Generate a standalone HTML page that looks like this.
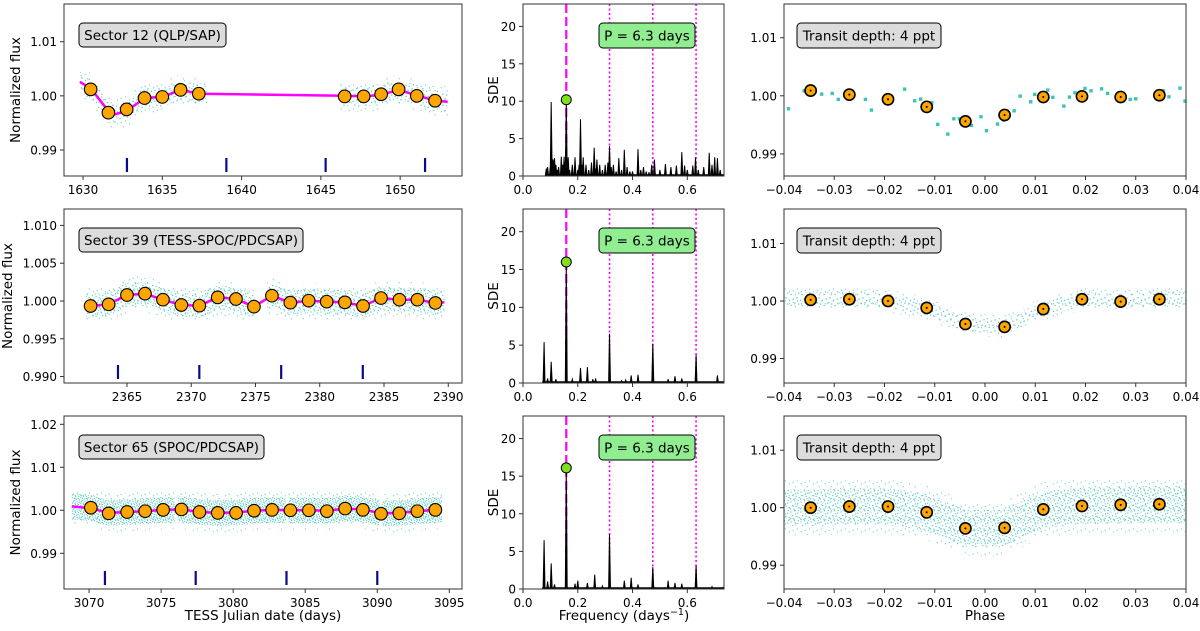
<!DOCTYPE html>
<html><head><meta charset="utf-8"><style>
html,body{margin:0;padding:0;background:#fff;}
svg{display:block;font-family:"DejaVu Sans","Liberation Sans",sans-serif;}
</style></head><body>
<svg id="fig" width="1200" height="631" viewBox="0 0 1200 631" xmlns="http://www.w3.org/2000/svg">
<defs id="defs"></defs>
<g id="root"></g>
</svg>
<script>
// ---------- DATA ----------
// Sector 12 light curve
const s12BinTime=[1630.48,1631.6,1632.75,1633.88,1635.0,1636.15,1637.3,1646.5,1647.7,1648.8,1649.9,1651.05,1652.2];
const s12BinFlux=[1.0012,0.9969,0.9975,0.9996,0.9998,1.0011,1.0004,0.9999,0.9999,1.0003,1.0012,1.0000,0.9991];
const s12TrendTime=[1629.8,1630.5,1631.6,1632.0,1632.75,1633.9,1635.0,1636.15,1637.3,1646.5,1647.7,1648.8,1649.9,1651.05,1652.2,1653.0];
const s12TrendFlux=[1.0026,1.0013,0.9972,0.9966,0.9972,0.9996,0.9998,1.0011,1.0004,1.0000,0.9999,1.0002,1.0011,1.0001,0.9991,0.9989];
const s12Transits=[1632.77,1639.04,1645.3,1651.57];
const s12Spans=[[1629.8,1637.8],[1646.2,1653.0]];
const s12XTicks=[1630,1635,1640,1645,1650];
const s12YTicks=[0.99,1.00,1.01];
// Sector 39
const s39BinTime=[2362.17,2363.57,2365.0,2366.4,2367.8,2369.23,2370.63,2372.06,2373.48,2374.88,2376.28,2377.71,2379.14,2380.54,2381.96,2383.37,2384.77,2386.2,2387.6,2389.0];
const s39BinFlux=[0.99934,0.99956,1.00079,1.00097,1.00017,0.99947,0.99938,1.00048,1.00026,0.99925,1.0007,0.99978,1.00004,0.99991,0.99982,0.99934,1.00039,1.00017,1.00017,0.99974];
const s39TrendTime=[2361.8,2362.17,2363.57,2365.0,2366.4,2367.8,2369.23,2370.63,2372.06,2373.48,2374.88,2376.28,2377.71,2379.14,2380.54,2381.96,2383.37,2384.77,2386.2,2387.6,2389.0,2389.7];
const s39TrendFlux=[0.99955,0.99934,0.99956,1.00079,1.00097,1.00017,0.99947,0.99938,1.00048,1.00026,0.99925,1.0007,0.99978,1.00004,0.99991,0.99982,0.99934,1.00039,1.00017,1.00017,0.99974,0.99982];
const s39Transits=[2364.3,2370.63,2377.0,2383.35];
const s39Spans=[[2361.8,2374.9],[2375.9,2389.7]];
const s39XTicks=[2365,2370,2375,2380,2385,2390];
const s39YTicks=[0.990,0.995,1.000,1.005,1.010];
// Sector 65
const s65BinTime=[3070.12,3071.36,3072.64,3073.89,3075.14,3076.41,3077.66,3078.93,3080.2,3081.45,3082.7,3083.97,3085.25,3086.5,3087.77,3089.0,3090.26,3091.53,3092.78,3094.03];
const s65BinFlux=[1.0006,0.9993,0.9996,0.9998,1.0001,1.0002,0.9996,0.9994,0.9994,0.9999,1.0001,1.0000,1.0000,0.9998,1.0004,1.0001,0.9992,0.9993,0.9998,1.0001];
const s65TrendTime=[3068.8,3070.12,3071.36,3072.64,3073.89,3075.14,3076.41,3077.66,3078.93,3080.2,3081.45,3082.7,3083.97,3085.25,3086.5,3087.77,3089.0,3090.26,3091.53,3092.78,3094.03,3094.5];
const s65TrendFlux=[1.0009,1.0005,0.9994,0.9996,0.9998,1.0001,1.0002,0.9996,0.9994,0.9995,0.9999,1.0001,1.0000,1.0000,0.9999,1.0004,1.0002,0.9993,0.9994,0.9998,1.0001,1.0001];
const s65Transits=[3071.1,3077.4,3083.7,3090.0];
const s65Spans=[[3068.8,3075.95],[3076.15,3083.65],[3083.85,3090.15],[3090.35,3094.5]];
const s65XTicks=[3070,3075,3080,3085,3090,3095];
const s65YTicks=[0.99,1.00,1.01,1.02];
// Periodograms (peak frequency / SDE)
const bls12Freq=[0.085,0.09,0.1,0.103,0.106,0.11,0.115,0.12,0.125,0.13,0.14,0.145,0.15,0.155,0.158,0.161,0.165,0.17,0.18,0.19,0.2,0.205,0.21,0.215,0.22,0.23,0.24,0.25,0.26,0.265,0.27,0.28,0.29,0.3,0.31,0.316,0.322,0.33,0.34,0.35,0.36,0.37,0.38,0.39,0.4,0.42,0.43,0.44,0.45,0.46,0.47,0.48,0.5,0.52,0.54,0.56,0.58,0.59,0.6,0.62,0.63,0.64,0.66,0.68,0.69,0.70,0.71,0.72];
const bls12Sde=[1,1.2,1.5,9.9,2.5,2.2,2.4,1.5,0.8,1.2,2.6,1.5,2.6,1.2,10.2,1.5,2.5,0.8,1.5,2.5,0.8,1.5,7.6,1.5,2.5,1.5,0.8,1.8,3.8,1,2.2,1.5,0.8,1.5,1.8,4.0,1.2,1.5,0.6,2.4,0.8,3.5,1.2,0.6,0.6,3.6,0.8,1.2,0.6,0.5,1.5,2.2,0.8,1.6,1.2,1.4,3.2,1.4,0.8,1.4,2.5,0.8,1.2,3.1,1.5,2.5,2.4,0.8];
const bls39Freq=[0.077,0.09,0.103,0.12,0.158,0.18,0.21,0.235,0.255,0.265,0.316,0.36,0.375,0.395,0.42,0.474,0.53,0.555,0.58,0.632,0.71];
const bls39Sde=[5.4,0.6,2.8,0.5,16.0,0.5,2.0,2.1,0.5,0.6,6.5,0.3,0.4,1.0,1.1,5.2,0.5,0.9,0.6,3.7,1.0];
const bls65Freq=[0.077,0.09,0.103,0.115,0.158,0.19,0.2,0.235,0.262,0.29,0.316,0.37,0.395,0.42,0.474,0.53,0.555,0.58,0.632,0.69,0.73];
const bls65Sde=[6.5,1.0,3.4,0.6,16.1,0.7,1.1,0.8,1.9,0.4,7.3,1.1,1.5,0.6,2.9,1.1,0.8,0.7,3.1,0.3,0.2];
const blsBestFreq=[0.158,0.158,0.158];
const blsBestSde=[10.2,16.0,16.1];
const blsHarmonics=[0.316,0.474,0.632];
const blsXTicks=[0.0,0.2,0.4,0.6];
const blsYTicks=[0,5,10,15,20];
// Phase-folded
const phaseBinX=[-0.0347,-0.0270,-0.0193,-0.0116,-0.0039,0.0039,0.0116,0.0193,0.0270,0.0347];
const fold12Flux=[1.0009,1.0002,0.9994,0.9981,0.9956,0.9967,0.9998,0.9999,0.9998,1.0001];
const fold39Flux=[1.0002,1.0003,1.0000,0.9988,0.9960,0.9955,0.9986,1.0003,0.9999,1.0003];
const fold65Flux=[1.0000,1.0002,1.0002,0.9992,0.9964,0.9965,0.9997,1.0003,1.0005,1.0006];
const fold12PtPhase=[-0.0391,-0.0360,-0.0325,-0.0304,-0.0292,-0.0271,-0.0263,-0.0238,-0.0226,-0.0160,-0.0140,-0.0128,-0.0106,-0.0094,-0.0074,-0.0062,-0.0051,-0.0027,-0.0008,0.0003,0.0025,0.0037,0.0058,0.0070,0.0091,0.0099,0.0125,0.0135,0.0157,0.0168,0.0179,0.0199,0.0211,0.0232,0.0244,0.0267,0.0289,0.0300,0.0355,0.0366,0.0388,0.0398];
const fold12PtFlux=[0.99777,1.00086,1.00029,1.00041,0.99938,1.00093,1.00041,0.99938,0.99754,1.00115,0.99914,0.99943,0.9988,0.99509,0.99342,0.99605,0.99605,0.99491,0.99639,0.99399,0.99514,0.99582,0.99742,0.99995,0.99897,1.00024,1.00098,0.99973,0.99823,0.99978,1.00052,1.00127,1.00086,1.0012,1.00041,1.00041,0.99938,0.99948,1.00086,0.99983,1.00132,0.99909];
const phaseXTicks=[-0.04,-0.03,-0.02,-0.01,0.00,0.01,0.02,0.03,0.04];
const phaseYTicks=[0.99,1.00,1.01];

// ---------- LAYOUT ----------
const NS='http://www.w3.org/2000/svg';
const root=document.getElementById('root');
const defs=document.getElementById('defs');
function mk(tag,attrs,parent){const e=document.createElementNS(NS,tag);for(const k in attrs)e.setAttribute(k,attrs[k]);(parent||root).appendChild(e);return e;}
// scatter textures (irregular dot tiles)
const tileDots=[[1,2],[4.5,0.8],[7.8,3.1],[2.7,5.6],[6.1,6.4],[9.2,7.7],[0.6,8.9],[4.0,9.2],[8.3,0.4],[5.5,3.9],[3.1,2.9],[7.2,8.8],[1.8,7.2],[9.4,5.0]];
function makePattern(id,size,n,r,op){
  const p=mk('pattern',{id:id,width:size,height:size,patternUnits:'userSpaceOnUse'},defs);
  for(let i=0;i<n;i++){mk('circle',{cx:tileDots[i][0]*size/10,cy:tileDots[i][1]*size/10,r:r,fill:'#3cc4b4','fill-opacity':op},p);}
}
makePattern('sp1',11,6,0.7,0.9);
makePattern('sp2',10,10,0.65,0.9);
makePattern('sp3',8,14,0.6,0.9);
makePattern('fz',12,4,0.6,0.8);
function scale(d0,d1,r0,r1){return v=>r0+(v-d0)*(r1-r0)/(d1-d0);}
function fmt(v,dec){return v.toFixed(dec).replace('-','\u2212');}
const ROWS=[[4,176],[209,383],[416,589]];
const LX=[64,462],MX=[523,724],RX=[784,1186];

function frame(x0,x1,y0,y1,name){
  const r=mk('rect',{x:x0,y:y0,width:x1-x0,height:y1-y0,fill:'none',stroke:'#333','stroke-width':1});
  
  
}
function xticks(ticks,sx,y1,dec,name){
  const g=mk('g',{});
  
  
  ticks.forEach(t=>{
    const x=sx(t);
    mk('line',{x1:x,x2:x,y1:y1,y2:y1+4,stroke:'#333'},g);
    const tx=mk('text',{x:x,y:y1+18,'font-size':12,'text-anchor':'middle',fill:'#000'},g);
    tx.textContent=fmt(t,dec);
    
    
  });
}
function yticks(ticks,sy,x0,dec,name){
  const g=mk('g',{});
  
  
  ticks.forEach(t=>{
    const y=sy(t);
    mk('line',{x1:x0-4,x2:x0,y1:y,y2:y,stroke:'#333'},g);
    const tx=mk('text',{x:x0-7,y:y+4.5,'font-size':12,'text-anchor':'end',fill:'#000'},g);
    tx.textContent=fmt(t,dec);
    
    
  });
}
function label(x,y,w,h,text,fill,name){
  const g=mk('g',{});
  
  
  mk('rect',{x:x,y:y,width:w,height:h,rx:4,fill:fill,stroke:'#000','stroke-width':1},g);
  const t=mk('text',{x:x+w/2,y:y+h/2+5,'font-size':13.5,'text-anchor':'middle',fill:'#000'},g);
  t.textContent=text;
}
function interp(xs,ys,x){
  if(x<=xs[0])return ys[0];
  for(let i=1;i<xs.length;i++){if(x<=xs[i]){const f=(x-xs[i-1])/(xs[i]-xs[i-1]);return ys[i-1]+f*(ys[i]-ys[i-1]);}}
  return ys[ys.length-1];
}
function band(spans,tx,tf,hw,sx,sy,pat,name){
  spans.forEach(sp=>{
    const up=[],dn=[];const n=40;
    for(let i=0;i<=n;i++){const t=sp[0]+(sp[1]-sp[0])*i/n;const f=interp(tx,tf,t);up.push(sx(t).toFixed(1)+','+sy(f+hw).toFixed(1));dn.unshift(sx(t).toFixed(1)+','+sy(f-hw).toFixed(1));}
    const p=mk('polygon',{points:up.concat(dn).join(' '),fill:'url(#'+pat+')'});
    
    
  });
}

// ---------- LIGHT CURVE PANELS ----------
const lcPanels=[
  {row:0,bt:s12BinTime,bf:s12BinFlux,tt:s12TrendTime,tf:s12TrendFlux,tr:s12Transits,sp:s12Spans,xt:s12XTicks,yt:s12YTicks,xd:[1628.8,1653.9],yd:[0.9852,1.01696],ydec:2,hw:0.0019,pat:'sp1',lab:'Sector 12 (QLP/SAP)',lw:147},
  {row:1,bt:s39BinTime,bf:s39BinFlux,tt:s39TrendTime,tf:s39TrendFlux,tr:s39Transits,sp:s39Spans,xt:s39XTicks,yt:s39YTicks,xd:[2360.1,2391.07],yd:[0.98915,1.01217],ydec:3,hw:0.0016,pat:'sp2',lab:'Sector 39 (TESS-SPOC/PDCSAP)',lw:224},
  {row:2,bt:s65BinTime,bf:s65BinFlux,tt:s65TrendTime,tf:s65TrendFlux,tr:s65Transits,sp:s65Spans,xt:s65XTicks,yt:s65YTicks,xd:[3068.26,3095.88],yd:[0.9817,1.02193],ydec:2,hw:0.0030,pat:'sp3',lab:'Sector 65 (SPOC/PDCSAP)',lw:185}
];
lcPanels.forEach(P=>{
  const [y0,y1]=ROWS[P.row];
  const sx=scale(P.xd[0],P.xd[1],LX[0],LX[1]);
  const sy=scale(P.yd[0],P.yd[1],y1,y0);
  band(P.sp,P.tt,P.tf,P.hw*1.5,sx,sy,'fz','flux-scatter-outliers');
  band(P.sp,P.tt,P.tf,P.hw,sx,sy,P.pat,'flux-scatter');
  const pts=P.tt.map((t,i)=>sx(t).toFixed(1)+','+sy(P.tf[i]).toFixed(1)).join(' ');
  const tl=mk('polyline',{points:pts,fill:'none',stroke:'#ff00ff','stroke-width':2.5,'stroke-linejoin':'round'});
  
  
  P.tr.forEach(t=>{
    const m=mk('line',{x1:sx(t),x2:sx(t),y1:y1-18,y2:y1-4,stroke:'#0a0a8a','stroke-width':2.2});
    
    
  });
  P.bt.forEach((t,i)=>{
    const c=mk('circle',{cx:sx(t),cy:sy(P.bf[i]),r:6.3,fill:'#ffa500',stroke:'#000','stroke-width':1.1});
    
    
  });
  frame(LX[0],LX[1],y0,y1,'lightcurve-axes');
  xticks(P.xt,sx,y1,0,'time-x-axis');
  yticks(P.yt,sy,LX[0],P.ydec,'flux-y-axis');
  label(79,y0+19,P.lw,24,P.lab,'#dcdcdc','sector-label');
  const yl=mk('text',{x:0,y:0,'font-size':13.5,'text-anchor':'middle',transform:'translate('+(P.ydec==3?12:20)+','+((y0+y1)/2)+') rotate(-90)'});
  yl.textContent='Normalized flux';
  
  
});

// ---------- PERIODOGRAM PANELS ----------
const blsPanels=[{row:0,f:bls12Freq,s:bls12Sde,f0:0.085},{row:1,f:bls39Freq,s:bls39Sde,f0:0.07},{row:2,f:bls65Freq,s:bls65Sde,f0:0.07}];
blsPanels.forEach((P,k)=>{
  const [y0,y1]=ROWS[P.row];
  const sx=scale(0,0.734,MX[0],MX[1]);
  const sy=scale(0,23,y1,y0);
  const hs=0.0035;
  const dl=mk('line',{x1:sx(blsBestFreq[k]),x2:sx(blsBestFreq[k]),y1:y0,y2:y1,stroke:'#ff00ff','stroke-width':2.2,'stroke-dasharray':'9,4'});
  
  
  blsHarmonics.forEach(h=>{
    const l=mk('line',{x1:sx(h),x2:sx(h),y1:y0,y2:y1,stroke:'#ff00ff','stroke-width':1.6,'stroke-dasharray':'2,2.5'});
    
    
  });
  const base=mk('line',{x1:sx(P.f0),x2:MX[1],y1:sy(0.15),y2:sy(0.15),stroke:'#000','stroke-width':1.2});
  
  
  let d='';
  P.f.forEach((f,i)=>{d+='M'+sx(f-hs).toFixed(1)+','+sy(0).toFixed(1)+'L'+sx(f).toFixed(1)+','+sy(P.s[i]).toFixed(1)+'L'+sx(f+hs).toFixed(1)+','+sy(0).toFixed(1)+'Z';});
  const pk=mk('path',{d:d,fill:'#000',stroke:'#000','stroke-width':1});
  
  
  const gd=mk('circle',{cx:sx(blsBestFreq[k]),cy:sy(blsBestSde[k]),r:5,fill:'#7fe020',stroke:'#000','stroke-width':1});
  
  
  frame(MX[0],MX[1],y0,y1,'periodogram-axes');
  xticks(blsXTicks,sx,y1,1,'frequency-x-axis');
  yticks(blsYTicks,sy,MX[0],0,'sde-y-axis');
  label(599,y0+19,96,25,'P = 6.3 days','#90ee90','period-label');
  const yl=mk('text',{x:0,y:0,'font-size':13.5,'text-anchor':'middle',transform:'translate(498,'+((y0+y1)/2)+') rotate(-90)'});
  yl.textContent='SDE';
  
  
});

// ---------- PHASE-FOLDED PANELS ----------
const foldPanels=[{row:0,fl:fold12Flux,yd:[0.9862,1.0158]},{row:1,fl:fold39Flux,yd:[0.98574,1.016],hw:0.0013,pat:'sp1'},{row:2,fl:fold65Flux,yd:[0.98586,1.01595],hw:0.0032,pat:'sp2'}];
foldPanels.forEach(P=>{
  const [y0,y1]=ROWS[P.row];
  const sx=scale(-0.04,0.04,RX[0],RX[1]);
  const sy=scale(P.yd[0],P.yd[1],y1,y0);
  if(P.row===0){
    fold12PtPhase.forEach((p,i)=>{
      const r=mk('rect',{x:sx(p)-1.7,y:sy(fold12PtFlux[i])-1.7,width:3.4,height:3.4,fill:'#3cc4b4'});
      
      
    });
  } else {
    const tx=[-0.04].concat(phaseBinX,[0.04]);
    const tf=[P.fl[0]].concat(P.fl,[P.fl[P.fl.length-1]]);
    band([[-0.0399,0.0399]],tx,tf,P.hw*1.5,sx,sy,'fz','folded-flux-outliers');
    band([[-0.0399,0.0399]],tx,tf,P.hw,sx,sy,P.pat,'folded-flux-scatter');
  }
  phaseBinX.forEach((p,i)=>{
    const c=mk('circle',{cx:sx(p),cy:sy(P.fl[i]),r:5.6,fill:'#ffa500',stroke:'#000','stroke-width':1.6});
    
    
    const dt=mk('circle',{cx:sx(p),cy:sy(P.fl[i]),r:1,fill:'#000'});
    
    
  });
  frame(RX[0],RX[1],y0,y1,'phase-axes');
  xticks(phaseXTicks,sx,y1,2,'phase-x-axis');
  yticks(phaseYTicks,sy,RX[0],2,'phase-y-axis');
  label(797,y0+19,144,25,'Transit depth: 4 ppt','#dcdcdc','depth-label');
});

// ---------- AXIS TITLES ----------
const t1=mk('text',{x:263,y:620,'font-size':13.5,'text-anchor':'middle'});
t1.textContent='TESS Julian date (days)';


const t2=mk('text',{x:624,y:620,'font-size':13.5,'text-anchor':'middle'});
t2.innerHTML='Frequency (days<tspan dy="-5" font-size="9.5">\u22121</tspan><tspan dy="5">)</tspan>';


const t3=mk('text',{x:985,y:620,'font-size':13.5,'text-anchor':'middle'});
t3.textContent='Phase';


</script>
</body></html>
